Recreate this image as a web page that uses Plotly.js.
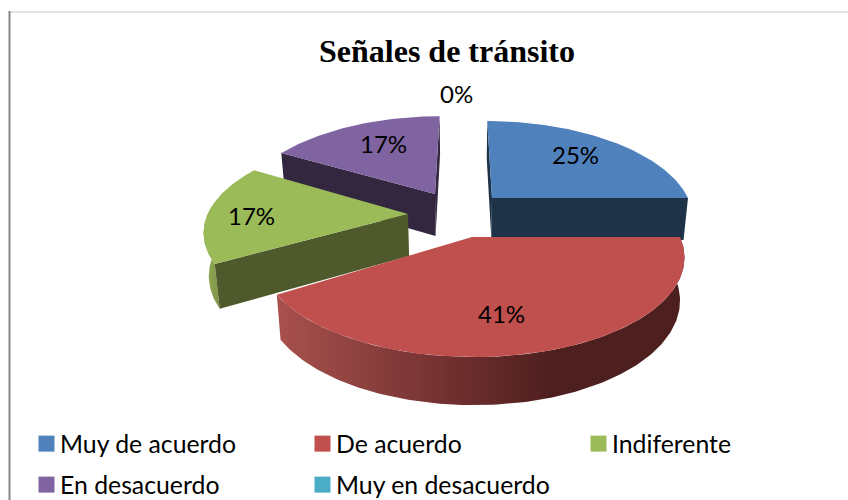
<!DOCTYPE html>
<html>
<head>
<meta charset="utf-8">
<script src="https://cdn.plot.ly/plotly-3.0.0.min.js"></script>
<style>html,body{margin:0;padding:0;background:#fff}#c{width:848px;height:500px}</style>
</head>
<body>
<div id="c"></div>
<script>
var categories = ['Muy de acuerdo', 'De acuerdo', 'Indiferente', 'En desacuerdo', 'Muy en desacuerdo'];
var values = [25, 41, 17, 17, 0];
var colors = ['#4F81BD', '#C0504D', '#9BBB59', '#8064A2', '#4BACC6'];
var darkColors = ['#1E3248', '#4D1F1E', '#4E5A2B', '#33263F', '#1F4A55'];
var tipX = [492, 472, 408, 435, 463];
var tipY = [198, 237, 214, 194, 200];
var radiusX = [196, 208, 198, 195, 195];
var radiusY = [92, 96.5, 90, 93, 93];
var tilt = [0, 0, 4.7, 0, 0];
var labelX = [575, 501, 251, 383, 456];
var labelY = [154, 313, 215, 143, 93];
var drawOrder = [3, 0, 2, 1];

var vanishX = 463, persp = 0.196, depth = 42, bottomScale = 0.98;

function project(i, deg, lower) {
  var t = deg * Math.PI / 180;
  var X = Math.cos(t), Y = Math.sin(t);
  var f = 1 / (1 - persp * Y);
  var x = vanishX + (tipX[i] - vanishX + radiusX[i] * X) * f;
  var y = tipY[i] + radiusY[i] * Y * f + tilt[i] * X;
  if (lower) {
    x = vanishX + (x - vanishX) * bottomScale;
    y += depth * (1 + 0.6 * (f - 1));
  }
  return [x, y];
}
function tipPoint(i, lower) {
  var x = tipX[i], y = tipY[i];
  if (lower) { x = vanishX + (x - vanishX) * bottomScale; y += depth; }
  return [x, y];
}
function arc(i, a, b, lower) {
  var pts = [], n = Math.max(2, Math.ceil(Math.abs(b - a)));
  for (var k = 0; k <= n; k++) pts.push(project(i, a + (b - a) * k / n, lower));
  return pts;
}
function poly(pts, color, gradient) {
  var tr = {
    type: 'scatter', mode: 'lines', x: pts.map(function (p) { return p[0]; }),
    y: pts.map(function (p) { return p[1]; }), fill: 'toself', fillcolor: color,
    line: {width: 0, color: color}, hoverinfo: 'skip', showlegend: false
  };
  if (gradient) tr.fillgradient = gradient;
  return tr;
}

var total = values.reduce(function (a, b) { return a + b; }, 0);
var starts = [], acc = -90;
values.forEach(function (v) { starts.push(acc); acc += v / total * 360; });
function endOf(i) { return starts[i] + values[i] / total * 360; }

function radial(i, deg) {
  return poly([tipPoint(i, false), project(i, deg, false), project(i, deg, true), tipPoint(i, true)], darkColors[i]);
}
function outer(i, a, b, gradient) {
  return poly(arc(i, a, b, false).concat(arc(i, b, a, true)), colors[i], gradient);
}

var traces = [];
drawOrder.forEach(function (i) {
  var a = starts[i], b = endOf(i);
  if (i === 0) { traces.push(radial(i, a)); traces.push(radial(i, b)); }
  if (i === 1) {
    traces.push(outer(i, a, b, {type: 'horizontal', colorscale: [
      [0, '#A8504C'], [0.2, '#8E4240'], [0.45, '#6E2E2E'], [0.68, '#4D1F1E'], [1, '#4D1F1E']]}));
  }
  if (i === 2) {
    traces.push(outer(i, a, 182, {type: 'horizontal', colorscale: [[0, '#93AE55'], [1, '#7E9449']]}));
    traces.push(radial(i, a));
  }
  if (i === 3) { traces.push(radial(i, b)); traces.push(radial(i, a)); }
  traces.push(poly([tipPoint(i, false)].concat(arc(i, a, b, false)), colors[i]));
});

categories.forEach(function (name, i) {
  traces.push({
    type: 'scatter', mode: 'markers', x: [-100], y: [-100], name: name,
    marker: {color: colors[i], size: 16, symbol: 'square'},
    hoverinfo: 'skip', showlegend: true, legend: i < 3 ? 'legend' : 'legend2'
  });
});

var legendBase = {
  orientation: 'h', xanchor: 'left', yanchor: 'middle', x: 20 / 848,
  entrywidth: 231, entrywidthmode: 'pixels', bgcolor: 'rgba(0,0,0,0)', borderwidth: 0,
  font: {family: 'Lato, Carlito, sans-serif', size: 24.8, color: '#000'}, itemclick: false, itemdoubleclick: false
};

var layout = {
  width: 848, height: 500, margin: {l: 0, r: 0, t: 0, b: 0, autoexpand: false},
  paper_bgcolor: '#fff', plot_bgcolor: '#fff',
  title: {text: 'Señales de tránsito', x: 447 / 848, xanchor: 'center', y: 1 - 51 / 500, yanchor: 'middle',
    font: {family: '"Liberation Serif", serif', size: 32, color: '#000', weight: 700}},
  xaxis: {range: [0, 848], visible: false, fixedrange: true},
  yaxis: {range: [500, 0], visible: false, fixedrange: true},
  legend: Object.assign({}, legendBase, {y: 1 - 444 / 500}),
  legend2: Object.assign({}, legendBase, {y: 1 - 485 / 500}),
  shapes: [
    {type: 'line', x0: 9, x1: 848, y0: 12, y1: 12, line: {color: '#C8C8C8', width: 1}},
    {type: 'line', x0: 9.5, x1: 9.5, y0: 11, y1: 500, line: {color: '#868686', width: 2}}
  ],
  annotations: values.map(function (v, i) {
    return {x: labelX[i], y: labelY[i], text: v + '%', showarrow: false, xanchor: 'center', yanchor: 'middle',
      font: {family: 'Lato, Carlito, sans-serif', size: 24, color: '#000'}};
  })
};
Plotly.newPlot('c', traces, layout, {displayModeBar: false}).then(function () {
  document.querySelectorAll('#c .legendsymbols').forEach(function (g) {
    g.setAttribute('transform', 'translate(6.5,0)');
  });
});
</script>
</body>
</html>
